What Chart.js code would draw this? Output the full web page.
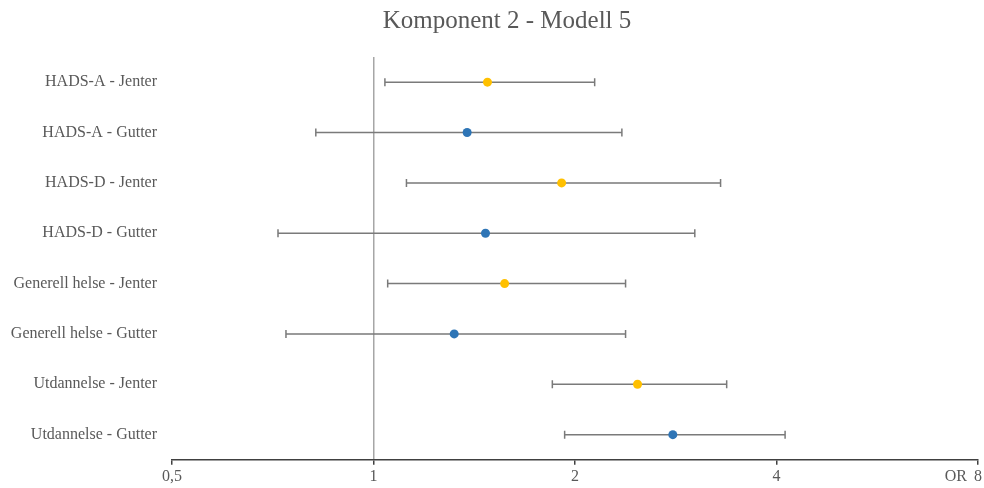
<!DOCTYPE html>
<html lang="no">
<head>
    <meta charset="UTF-8">
    <title>Komponent 2 - Modell 5</title>
    <script src="https://cdn.jsdelivr.net/npm/chart.js"></script>
    <style>
        html, body { margin: 0; padding: 0; background: #fff; }
        #wrap { width: 984px; height: 488px; }
    </style>
</head>
<body>
    <div id="wrap"><canvas id="forestChart"></canvas></div>
    <script>
        // Kategorier og verdier (OR med 95% KI)
        const kategorier = ['HADS-A - Jenter', 'HADS-A - Gutter', 'HADS-D - Jenter', 'HADS-D - Gutter',
            'Generell helse - Jenter', 'Generell helse - Gutter', 'Utdannelse - Jenter', 'Utdannelse - Gutter'];
        const orVerdier = [1.48, 1.38, 1.91, 1.47, 1.57, 1.32, 2.48, 2.80];
        const nedre = [1.04, 0.82, 1.12, 0.72, 1.05, 0.74, 1.85, 1.93];
        const ovre = [2.14, 2.35, 3.30, 3.02, 2.38, 2.38, 3.37, 4.12];
        const xTicks = [0.5, 1, 2, 4, 8];

        const serif = "'Liberation Serif', 'DejaVu Serif', serif";
        const punkter = kategorier.map((k, i) => ({ x: orVerdier[i], y: k, i: i }));

        // Feilstolper tegnes via skalaene
        const feilstolper = {
            id: 'feilstolper',
            beforeDatasetsDraw(chart) {
                const ctx = chart.ctx;
                const xs = chart.scales.x, ys = chart.scales.y;
                ctx.save();
                ctx.strokeStyle = '#7a7a7a';
                ctx.lineWidth = 1.5;
                kategorier.forEach((k, i) => {
                    const y = ys.getPixelForValue(i);
                    const x1 = xs.getPixelForValue(nedre[i]);
                    const x2 = xs.getPixelForValue(ovre[i]);
                    ctx.beginPath();
                    ctx.moveTo(x1, y); ctx.lineTo(x2, y);
                    ctx.moveTo(x1, y - 4); ctx.lineTo(x1, y + 4);
                    ctx.moveTo(x2, y - 4); ctx.lineTo(x2, y + 4);
                    ctx.stroke();
                });
                ctx.restore();
            },
            afterDraw(chart) {
                const ctx = chart.ctx;
                ctx.save();
                ctx.fillStyle = '#595959';
                ctx.font = '25px ' + serif;
                ctx.textAlign = 'center';
                ctx.textBaseline = 'middle';
                ctx.fillText('Komponent 2 - Modell 5', 507, 21);
                ctx.font = '16px ' + serif;
                ctx.textAlign = 'right';
                ctx.fillText('OR', 967, 477);
                ctx.restore();
            }
        };

        new Chart(document.getElementById('forestChart'), {
            type: 'scatter',
            data: {
                datasets: [{
                    label: 'Jenter',
                    data: punkter.filter(p => p.i % 2 === 0),
                    backgroundColor: '#ffc000',
                    borderWidth: 0,
                    pointRadius: 4.5
                }, {
                    label: 'Gutter',
                    data: punkter.filter(p => p.i % 2 === 1),
                    backgroundColor: '#2e75b6',
                    borderWidth: 0,
                    pointRadius: 4.5
                }]
            },
            options: {
                responsive: true,
                maintainAspectRatio: false,
                animation: false,
                layout: { padding: { top: 57, right: 4.5, left: 0, bottom: 0 } },
                plugins: {
                    legend: { display: false },
                    tooltip: { enabled: false },
                    title: { display: false }
                },
                scales: {
                    x: {
                        type: 'logarithmic',
                        min: 0.5,
                        max: 8,
                        afterBuildTicks: s => { s.ticks = xTicks.map(v => ({ value: v })); },
                        ticks: {
                            color: '#595959',
                            font: { family: serif, size: 16 },
                            padding: 2,
                            maxRotation: 0,
                            callback: v => String(v).replace('.', ',')
                        },
                        grid: {
                            color: c => (c.tick && c.tick.value === 1) ? '#a6a6a6' : 'rgba(0,0,0,0)',
                            lineWidth: 1.5,
                            tickColor: '#404040',
                            tickLength: 5
                        },
                        border: { display: true, color: '#404040', width: 1.5 }
                    },
                    y: {
                        type: 'category',
                        labels: kategorier,
                        offset: true,
                        afterFit: s => { s.width = 172; },
                        ticks: {
                            color: '#595959',
                            font: { family: serif, size: 16 },
                            padding: 7
                        },
                        grid: { display: false },
                        border: { display: false }
                    }
                }
            },
            plugins: [feilstolper]
        });
    </script>
</body>
</html>
